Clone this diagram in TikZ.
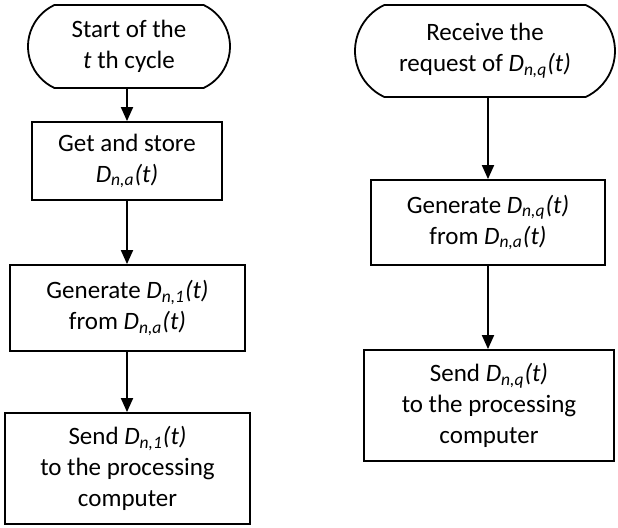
\documentclass[tikz,border=0pt]{standalone}
\usepackage{fontspec}
\setmainfont{Carlito}
\usetikzlibrary{shapes.misc,arrows.meta}
\newcommand{\Dn}[1]{\textit{D\textsubscript{n,#1}(t)}}
\begin{document}
\begin{tikzpicture}[x=0.5pt, y=-0.5pt,
  font=\fontsize{12.5pt}{15.5pt}\selectfont,
  terminal/.style={draw, line width=0.9pt, rounded rectangle, rounded rectangle arc length=130, align=center, inner sep=0pt},
  procbox/.style={draw, line width=0.9pt, rectangle, align=center, inner sep=0pt},
  flow/.style={line width=0.9pt, -{Triangle[length=7pt,width=6pt]}}]
  \useasboundingbox (0,0) rectangle (618,528);
  % left chain
  \node[terminal, minimum width=101pt, minimum height=41.5pt] (start) at (129,46.5) {Start of the\\ \textit{t} th cycle};
  \node[procbox, minimum width=95pt, minimum height=39pt] (store) at (127,161) {Get and store\\ \Dn{a}};
  \node[procbox, minimum width=117.5pt, minimum height=43pt] (gen1) at (127.5,308) {Generate \Dn{1}\\ from \Dn{a}};
  \node[procbox, minimum width=122.5pt, minimum height=55.5pt] (send1) at (127.5,468.5) {Send \Dn{1}\\ to the processing\\ computer};
  % right chain
  \node[terminal, minimum width=130pt, minimum height=46pt] (recv) at (485,51) {Receive the\\ request of \Dn{q}};
  \node[procbox, minimum width=117pt, minimum height=42.5pt] (genq) at (488,222.5) {Generate \Dn{q}\\ from \Dn{a}};
  \node[procbox, minimum width=125pt, minimum height=55.5pt] (sendq) at (489,405.5) {Send \Dn{q}\\ to the processing\\ computer};
  \draw[flow] (start.south -| store.north) -- (store.north);
  \draw[flow] (store.south) -- (store.south |- gen1.north);
  \draw[flow] (store.south |- gen1.south) -- (store.south |- send1.north);
  \draw[flow] (genq.north |- recv.south) -- (genq.north);
  \draw[flow] (genq.south) -- (genq.south |- sendq.north);
\end{tikzpicture}
\end{document}
